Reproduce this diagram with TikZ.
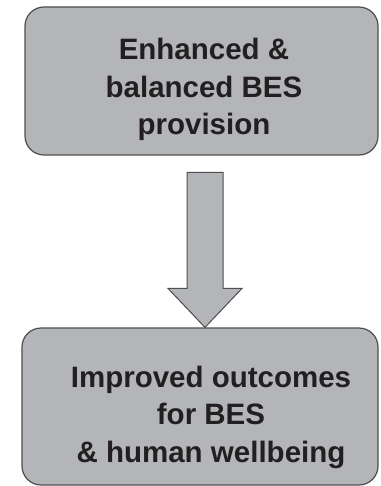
\documentclass[tikz,border=0pt]{standalone}
\usepackage{fontspec}
\setmainfont{Liberation Sans}
\definecolor{boxgray}{HTML}{B3B5B8}
\definecolor{edgegray}{HTML}{4D4D4F}
\definecolor{inkdark}{HTML}{231F20}
\tikzset{
  stage/.style={draw=edgegray, line width=1.2pt, fill=boxgray, rounded corners=19pt, inner sep=0pt},
  stagetext/.style={align=center, text=inkdark, inner sep=0pt, font=\fontsize{29.5}{37.5}\selectfont\bfseries},
  flow/.style={draw=edgegray, line width=1pt, fill=boxgray, line join=miter}
}
\begin{document}
\begin{tikzpicture}[x=1pt,y=-1pt]
\useasboundingbox (0,0) rectangle (380,486);
\node[stage, minimum width=353pt, minimum height=148pt] (prov) at (201.5,81) {};
\node[stage, minimum width=356pt, minimum height=157pt] (outc) at (200,406.5) {};
\node[stagetext] (provtext) at (204,89.5) {Enhanced \&\\balanced BES\\provision};
\node[stagetext] (outctext) at (211,417) {Improved outcomes\\for BES\\\& human wellbeing};
% block arrow, tip sits on the lower box
\coordinate (tipx) at (205,0);
\coordinate (tip) at (tipx |- outc.north);
\draw[flow] (tip) -- ++(-37,-39) -- ++(19,0) -- ++(0,-116) -- ++(36,0)
  -- ++(0,116) -- ++(19,0) -- cycle;
\end{tikzpicture}
\end{document}
